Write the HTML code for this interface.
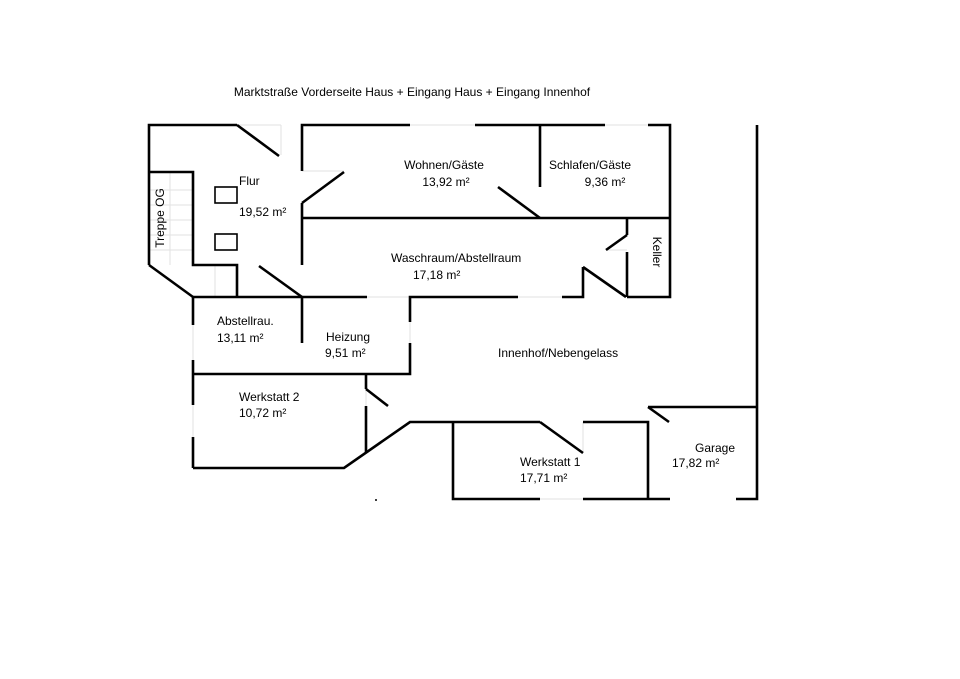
<!DOCTYPE html>
<html><head><meta charset="utf-8"><style>
html,body{margin:0;padding:0;background:#fff;}
svg{display:block;}
text{font-family:"Liberation Sans",Arial,sans-serif;font-size:12px;fill:#000;}
</style></head><body>
<svg width="960" height="679" viewBox="0 0 960 679" xmlns="http://www.w3.org/2000/svg">
<g stroke="#e2e2e2" stroke-width="1" fill="none">
<line x1="237" y1="125" x2="281" y2="125"/>
<line x1="281" y1="125" x2="281" y2="155"/>
<line x1="410" y1="125" x2="475" y2="125"/>
<line x1="605" y1="125" x2="648" y2="125"/>
<line x1="302" y1="171" x2="344" y2="171"/>
<line x1="150" y1="190" x2="193" y2="190"/>
<line x1="150" y1="205" x2="193" y2="205"/>
<line x1="150" y1="220" x2="193" y2="220"/>
<line x1="150" y1="235" x2="193" y2="235"/>
<line x1="150" y1="250" x2="193" y2="250"/>
<line x1="170" y1="172" x2="170" y2="265"/>
<line x1="215" y1="265" x2="215" y2="297"/>
<line x1="367" y1="297" x2="410" y2="297"/>
<line x1="518" y1="297" x2="562" y2="297"/>
<line x1="410" y1="322" x2="410" y2="343"/>
<line x1="193" y1="325" x2="193" y2="360"/>
<line x1="193" y1="405" x2="193" y2="437"/>
<line x1="366" y1="389" x2="366" y2="406"/>
<line x1="540" y1="499" x2="583" y2="499"/>
<line x1="583" y1="422" x2="583" y2="453"/>
<line x1="606" y1="250" x2="627" y2="250"/>
</g>
<g stroke="#000" stroke-width="2.6" fill="none" stroke-linecap="butt">
<polyline points="149,265 149,125 237,125"/>
<line x1="237" y1="125" x2="279" y2="156"/>
<polyline points="302,171 302,125 410,125"/>
<line x1="475" y1="125" x2="605" y2="125"/>
<polyline points="648,125 670,125 670,297 627,297"/>
<line x1="540" y1="125" x2="540" y2="187"/>
<line x1="498" y1="187" x2="540" y2="218"/>
<line x1="302" y1="203" x2="344" y2="172"/>
<line x1="302" y1="203" x2="302" y2="265"/>
<line x1="302" y1="218" x2="670" y2="218"/>
<line x1="149" y1="265" x2="193" y2="297"/>
<polyline points="149,172 193,172 193,265 237,265 237,297"/>
<line x1="259" y1="266" x2="302" y2="297"/>
<rect x="215" y="187" width="22" height="16" stroke-width="1.6"/>
<rect x="215" y="234" width="22" height="16" stroke-width="1.6"/>
<line x1="193" y1="297" x2="367" y2="297"/>
<polyline points="410,322 410,297 518,297"/>
<polyline points="562,297 583,297 583,267"/>
<line x1="583" y1="267" x2="626" y2="297"/>
<line x1="627" y1="218" x2="627" y2="235"/>
<line x1="627" y1="235" x2="606" y2="250"/>
<line x1="627" y1="252" x2="627" y2="297"/>
<line x1="193" y1="297" x2="193" y2="325"/>
<line x1="193" y1="360" x2="193" y2="405"/>
<line x1="193" y1="437" x2="193" y2="468"/>
<line x1="302" y1="297" x2="302" y2="343"/>
<polyline points="410,343 410,374 193,374"/>
<polyline points="193,468 344,468 410,422 540,422"/>
<line x1="366" y1="374" x2="366" y2="389"/>
<line x1="366" y1="389" x2="388" y2="406"/>
<line x1="366" y1="406" x2="366" y2="452"/>
<line x1="540" y1="422" x2="583" y2="453"/>
<polyline points="453,422 453,499 540,499"/>
<polyline points="583,499 670,499"/>
<polyline points="583,422 648,422 648,499"/>
<line x1="648" y1="407" x2="757" y2="407"/>
<line x1="648" y1="407" x2="669" y2="422"/>
<polyline points="757,125 757,499 736,499"/>
</g>
<circle cx="376" cy="500" r="1" fill="#000"/>
<text x="412" y="96" text-anchor="middle">Marktstraße Vorderseite Haus + Eingang Haus + Eingang Innenhof</text>
<text x="239" y="185">Flur</text>
<text x="239" y="216">19,52 m²</text>
<text transform="translate(164,218) rotate(-90)" text-anchor="middle">Treppe OG</text>
<text x="444" y="169" text-anchor="middle">Wohnen/Gäste</text>
<text x="446" y="186" text-anchor="middle">13,92 m²</text>
<text x="590" y="169" text-anchor="middle">Schlafen/Gäste</text>
<text x="605" y="186" text-anchor="middle">9,36 m²</text>
<text x="391" y="262">Waschraum/Abstellraum</text>
<text x="413" y="279">17,18 m²</text>
<text transform="translate(653,252) rotate(90)" text-anchor="middle">Keller</text>
<text x="217" y="325">Abstellrau.</text>
<text x="217" y="342">13,11 m²</text>
<text x="326" y="341">Heizung</text>
<text x="325" y="357">9,51 m²</text>
<text x="498" y="357">Innenhof/Nebengelass</text>
<text x="239" y="401">Werkstatt 2</text>
<text x="239" y="417">10,72 m²</text>
<text x="520" y="466">Werkstatt 1</text>
<text x="520" y="482">17,71 m²</text>
<text x="695" y="452">Garage</text>
<text x="672" y="467">17,82 m²</text>
</svg>
</body></html>
